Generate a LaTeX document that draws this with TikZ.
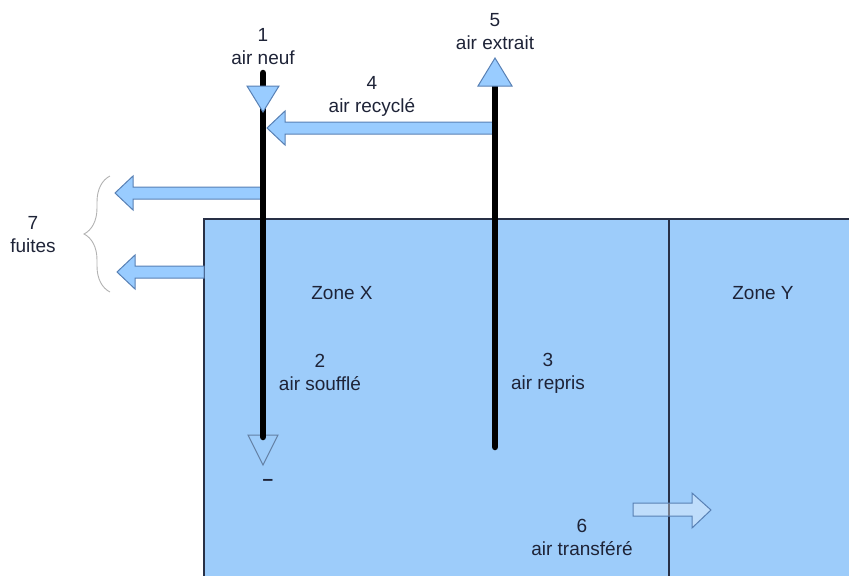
\documentclass[tikz,border=0pt]{standalone}
\usepackage{fontspec}
\setmainfont{Liberation Sans}
\usetikzlibrary{decorations.pathreplacing}

\definecolor{zonefill}{RGB}{157,204,250}
\definecolor{flowfill}{RGB}{153,204,255}
\definecolor{flowline}{RGB}{88,128,180}
\definecolor{wallline}{RGB}{40,48,70}
\definecolor{textcol}{RGB}{30,35,55}

\begin{document}
\begin{tikzpicture}[x=1pt,y=-1pt,
  txt/.style={align=center,text=textcol,font=\fontsize{19}{23}\selectfont},
  duct/.style={line width=6.5pt,line cap=round,black},
  flow/.style={fill=flowfill,draw=flowline,line width=1pt},
  bracket/.style={decorate,decoration={brace,amplitude=26pt},draw=black!30,line width=0.9pt}]

% Sizes of the block arrows
\def\shaftw{6}   % half width of the shaft
\def\headw{17}   % half width of the head
\def\headlen{18} % length of the head

\useasboundingbox (0,0) rectangle (849,576);

% Zones X and Y
\fill[zonefill] (204,219) rectangle (849,576);
\draw[wallline,line width=1.2pt] (849,219) -- (204,219) -- (204,576);
\draw[wallline,line width=2pt] (669,219) -- (669,576);

% Recycled air and the two leaks (all pointing left)
\foreach \tail/\tip/\y in {495/267/128, 263/115/193, 204/117/272} {
    \draw[flow] (\tail,\y-\shaftw) -- (\tip+\headlen,\y-\shaftw) -- (\tip+\headlen,\y-\headw)
        -- (\tip,\y) -- (\tip+\headlen,\y+\headw) -- (\tip+\headlen,\y+\shaftw) -- (\tail,\y+\shaftw) -- cycle;
}

% Transferred air
\draw[flow,fill=white,fill opacity=0.35] (633,503) -- (692,503) -- (692,493) -- (711,510)
    -- (692,528) -- (692,516) -- (633,516) -- cycle;

% Supply outlet
\draw[draw=flowline!70!gray,fill=zonefill,line width=1pt] (248,435) -- (278,435) -- (263,465) -- cycle;

% Ducts
\coordinate (neuf) at (263,73);
\coordinate (souffle) at (263,437);
\coordinate (extrait) at (495,84);
\coordinate (repris) at (495,447);
\draw[duct] (neuf) -- (souffle);
\draw[duct] (repris) -- (extrait);

% Inlet and outlet triangles
\draw[flow] (247,86) -- (279,86) -- (263,112) -- cycle;
\draw[flow] (478,86) -- (512,86) -- (495,58) -- cycle;

% Brace of the leaks
\draw[bracket] (110,292) -- (110,176);

% Labels
\node[txt] (lab1) at (263,47) {1\\air neuf};
\node[txt] (lab5) at (495,32) {5\\air extrait};
\node[txt] (lab4) at (372,96) {4\\air recyclé};
\node[txt] (lab2) at (320,372) {2\\air soufflé};
\node[txt] (lab3) at (548,373) {3\\air repris};
\node[txt] (lab6) at (582,537) {6\\air transféré};
\node[txt] (lab7) at (33,235) {7\\fuites};
\node[txt] (zonex) at (342,293) {Zone X};
\node[txt] (zoney) at (763,293) {Zone Y};
\node[txt] (minus) at (268,482) {\textbf{–}};

\end{tikzpicture}
\end{document}
